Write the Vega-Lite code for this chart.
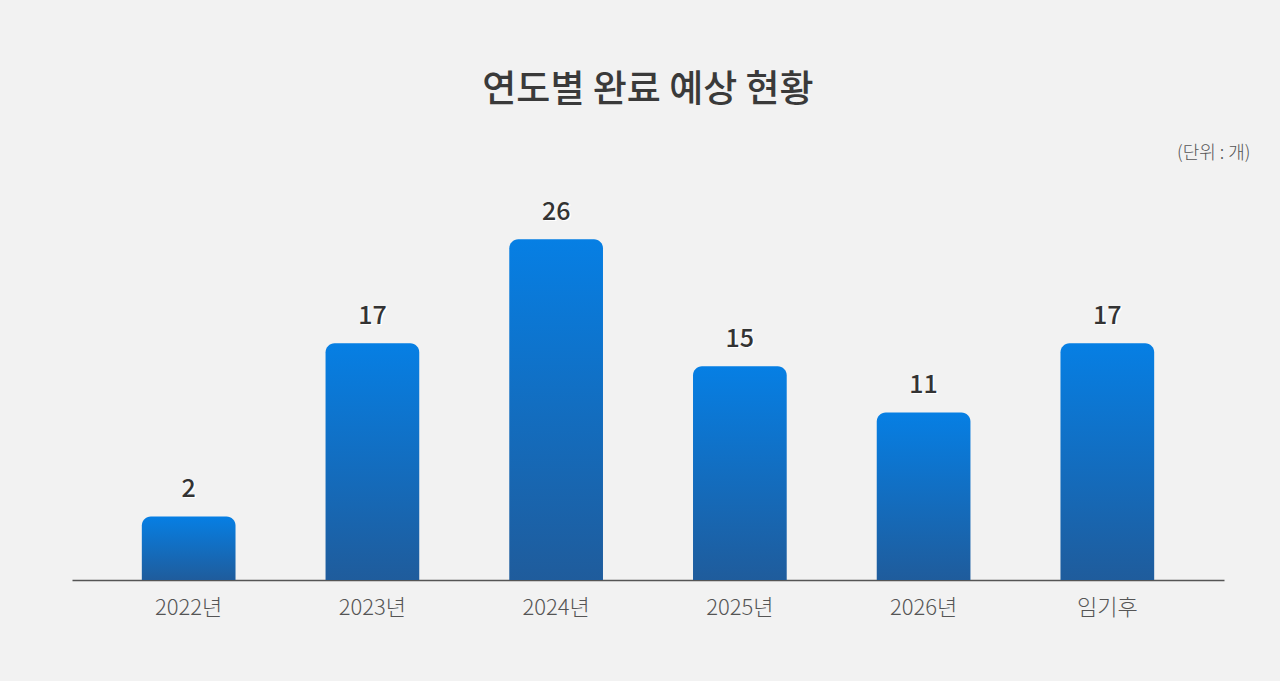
{
  "$schema": "https://vega.github.io/schema/vega-lite/v6.json",
  "autosize": {"type": "none"},
  "width": 1152,
  "height": 387,
  "padding": {"left": 72, "top": 193, "right": 56, "bottom": 101},
  "background": "#f2f2f2",
  "title": {
    "text": "연도별 완료 예상 현황",
    "anchor": "middle",
    "frame": "group",
    "font": "Noto Sans CJK KR",
    "fontSize": 37,
    "fontWeight": 500,
    "color": "#3a3a3a",
    "baseline": "bottom",
    "offset": -3
  },
  "data": {
    "values": [
      {"year": "2022년", "count": 2},
      {"year": "2023년", "count": 17},
      {"year": "2024년", "count": 26},
      {"year": "2025년", "count": 15},
      {"year": "2026년", "count": 11},
      {"year": "임기후", "count": 17}
    ]
  },
  "config": {
    "view": {"stroke": null},
    "font": "Noto Sans CJK KR"
  },
  "encoding": {
    "x": {
      "field": "year",
      "type": "nominal",
      "sort": null,
      "scale": {"paddingInner": 0.49, "paddingOuter": 0.38},
      "axis": {
        "title": null,
        "labelAngle": 0,
        "labelFont": "Noto Sans CJK KR",
        "labelFontSize": 22,
        "labelFontWeight": 300,
        "labelColor": "#555555",
        "labelPadding": 17,
        "ticks": false,
        "domainColor": "#555555",
        "domainWidth": 1.5,
        "grid": false
      }
    },
    "y": {
      "field": "count",
      "type": "quantitative",
      "scale": {"domain": [-3.5, 30], "nice": false, "zero": false},
      "axis": {
        "orient": "right",
        "title": "(단위 : 개)",
        "titleAngle": 0,
        "titleAlign": "right",
        "titleBaseline": "middle",
        "titleX": 26,
        "titleY": -40,
        "titleFont": "Noto Sans CJK KR",
        "titleFontSize": 18,
        "titleFontWeight": 300,
        "titleColor": "#555555",
        "labels": false,
        "ticks": false,
        "domain": false,
        "grid": false
      }
    }
  },
  "layer": [
    {
      "mark": {
        "type": "bar",
        "cornerRadiusTopLeft": 9,
        "cornerRadiusTopRight": 9,
        "color": {
          "gradient": "linear",
          "x1": 0, "y1": 0, "x2": 0, "y2": 1,
          "stops": [
            {"offset": 0, "color": "#067fe4"},
            {"offset": 1, "color": "#1f5c9c"}
          ]
        }
      },
      "encoding": {
        "y2": {"datum": -3.5}
      }
    },
    {
      "mark": {
        "type": "text",
        "dy": -18,
        "dx": 1.5,
        "baseline": "alphabetic",
        "fontSize": 25,
        "fontWeight": 500,
        "color": "#ffffff",
        "font": "Noto Sans CJK KR"
      },
      "encoding": {"text": {"field": "count"}}
    },
    {
      "mark": {
        "type": "text",
        "dy": -19.5,
        "baseline": "alphabetic",
        "fontSize": 25,
        "fontWeight": 500,
        "color": "#333333",
        "font": "Noto Sans CJK KR"
      },
      "encoding": {"text": {"field": "count"}}
    }
  ]
}
